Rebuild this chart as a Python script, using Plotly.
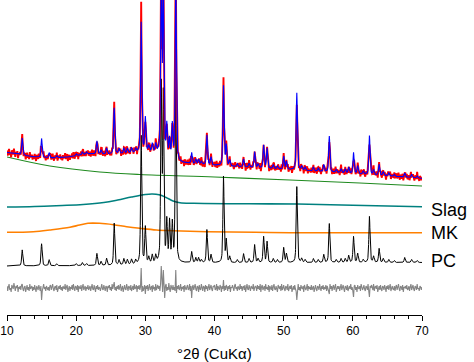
import numpy as np
import plotly.graph_objects as go

# ---------------- data ----------------
# Peak positions (deg 2theta)
peak_pos = [12.2, 15.0, 16.1, 17.2, 20.0, 20.9, 21.5, 23.0, 23.6, 24.4, 25.5, 26.2, 26.9, 27.4,
            28.0, 28.6, 29.4, 30.0, 30.5, 31.0, 31.5, 32.3, 32.6, 33.1, 33.5, 33.9, 34.4, 36.7,
            37.3, 37.7, 38.1, 38.9, 39.5, 41.3, 41.7, 42.2, 43.3, 44.2, 45.0, 45.8, 46.3, 47.1,
            47.6, 48.5, 49.1, 50.0, 50.4, 51.9, 52.6, 53.1, 54.3, 55.0, 55.8, 56.6, 57.6, 58.3,
            58.9, 59.4, 60.1, 60.7, 61.5, 62.4, 63.0, 63.8, 64.4, 65.2, 66.0, 67.5, 68.5, 69.3]
# PC phase pattern peak heights
pc_heights = [16, 22, 6, 2, 2, 3, 2, 12, 4, 7, 42, 5, 6, 5,
              5, 4, 128, 36, 6, 8, 7, 175, 165, 40, 40, 38, 180, 11,
              5, 5, 3, 33, 8, 86, 22, 6, 3, 9, 4, 18, 4, 26,
              21, 4, 3, 15, 9, 76, 4, 3, 4, 3, 8, 39, 3, 4,
              4, 7, 26, 9, 3, 46, 6, 14, 4, 3, 2, 5, 3, 2]
# calculated (fitted) pattern peak heights
calc_heights = [17, 19, 5, 2, 2, 3, 2, 13, 4, 6, 46, 5, 5, 5,
                5, 4, 130, 34, 6, 8, 8, 180, 170, 30, 18, 34, 185, 11,
                5, 5, 3, 30, 8, 80, 20, 6, 3, 8, 4, 16, 4, 23,
                20, 4, 3, 13, 8, 77, 4, 3, 4, 3, 7, 36, 3, 4,
                4, 6, 21, 8, 3, 39, 5, 11, 4, 3, 2, 4, 3, 2]

# background (green) curve
bg_x = [10, 16.2, 23.4, 29.2, 40, 50.9, 61, 70]
bg_y = [158, 149, 143, 140.5, 138, 135, 132, 129]

# Slag amorphous curve
slag_x = [10, 14, 18, 21, 24, 26, 28, 30, 31, 32, 33, 34, 35, 37, 45, 52, 60, 70]
slag_y = [108, 108.5, 109.5, 110.5, 112.5, 115, 118, 120.5, 121, 120.2, 117.5, 114,
          112.3, 111.7, 111.2, 111, 109.7, 108.2]

# MK amorphous curve
mk_x = [10, 13.8, 16.2, 19.1, 20.5, 21.7, 23.4, 25.4, 27.3, 29.2, 31.6, 34, 38.9, 45.9, 50.9, 70]
mk_y = [82.7, 83.3, 85, 87.7, 90, 91.7, 91.7, 90.3, 88.3, 86.7, 85, 84.3, 83.3, 82.7, 82.3, 82.3]

# PC trace baseline
pc_base_x = [10, 25, 33, 70]
pc_base_y = [49, 49.5, 52, 52.5]

# difference (obs - calc) at 0.1 deg steps from 10 to 70
residual = [
    2, -3, 1, 4, -2, 0, -4, 3, 1, -1, 5, -2, -3, 2, 0, 3, -4, 1, -1, 2,
    -2, 3, 4, -1, -3, 1, 2, -4, 0, 3, -2, 1, -3, 4, -1, 0, 2, -3, 1, -2,
    3, -1, -4, 2, 0, -2, 3, 1, -3, 2, -12, -3, 2, 4, -1, 1, -3, 2, 0, -2,
    1, -3, 2, 3, -2, 0, 4, -1, -3, 1, 2, -2, 3, -4, 0, 2, -1, 3, -2, 1,
    -3, 2, 0, -1, 4, -2, 1, 3, -4, 0, 2, -3, 1, -1, 3, -2, 4, 0, -3, 2,
    1, -2, 3, -4, 2, 0, -1, 3, -3, 1, 4, -2, 0, 2, -3, 1, -1, 3, -2, 0,
    2, -3, 1, 4, -1, -2, 3, 0, -4, 2, -1, 3, -2, 1, 0, -3, 2, 4, -1, -2,
    3, -1, -3, 2, 1, -4, 2, 0, 3, -2, 1, -3, 4, -1, 2, 6, -2, 1, -3, 2,
    -1, 3, -2, 0, 4, -3, 1, 2, -4, 1, 3, -1, -2, 4, 0, -3, 2, 1, -2, 3,
    -3, 1, 2, -2, 4, -1, 0, 3, -4, 2, -1, 3, -2, 1, 20, -4, 2, -3, 1, 3,
    -6, 2, -1, 3, -3, 1, 4, -2, 0, 2, -4, 3, -1, 1, -3, 4, -2, 0, 3, -1,
    2, -3, 4, 22, -2, -4, 18, 3, -10, 2, 4, -3, 1, -2, 5, -1, -4, 3, 1, -2,
    3, -2, 1, -3, 18, -5, 2, -1, 3, -2, 0, 4, -3, 1, -1, 2, -4, 3, 0, -2,
    1, 3, -2, -1, 4, -3, 2, -10, 1, 3, -2, 0, 4, -1, -3, 2, 1, -4, 3, -1,
    -2, 4, 0, -3, 2, 1, -4, 3, -1, 2, -3, 1, 4, -2, 0, 3, -1, -3, 2, 1,
    3, -2, -1, 4, -3, 2, 0, -2, 3, 1, -4, 2, -1, 8, -3, 2, -2, 3, 1, -3,
    2, -1, 3, -4, 1, 0, 3, -2, -3, 2, 4, -1, 1, -3, 2, 0, -2, 4, -1, 2,
    -3, 1, 2, -2, 3, -4, 1, 4, -1, -2, 3, 0, -3, 2, 1, -1, 4, -3, 0, 2,
    1, -3, 3, -1, 2, -2, 4, -4, 1, 3, -2, 0, 2, -3, 4, -1, 1, -2, 3, -4,
    2, 0, -2, 3, -3, 1, 4, -1, -2, 2, 0, -4, 3, 1, -1, 2, -3, 4, -2, 0,
    3, -1, -3, 2, 1, -2, 4, -3, 0, 2, -1, 3, -4, 1, 2, -2, 3, -1, -3, -12,
    2, 4, -2, 1, -3, 3, 0, -1, 2, -4, 3, 1, -2, 0, 4, -3, 2, -1, 1, -2,
    3, -2, 0, 2, -4, 1, 3, -1, -3, 2, 1, -2, 4, 0, -3, 2, -1, 3, -2, 1,
    -1, 3, -3, 2, 0, -2, -6, 4, -1, 2, -3, 1, 3, -2, 0, 4, -4, 1, 2, -1,
    2, -3, 1, 4, -2, 0, 3, -1, -4, 2, 1, -2, 3, -3, 0, 2, -1, 4, -2, 1,
    -3, -9, 2, 3, -2, 1, -4, 3, 0, -1, 2, -3, 4, 1, -2, 0, 3, -1, -3, 2,
    1, -2, 4, -3, -9, 2, 0, 3, -1, -2, 4, -3, 1, 2, -1, 3, -4, 0, 2, -2,
    3, -1, -3, 2, 1, -2, 3, 0, -4, 2, -1, 3, -2, 1, 4, -3, 0, 2, -1, -2,
    2, -3, 1, 3, -2, 0, 4, -1, -3, 2, 1, -2, 3, -4, 1, 0, 2, -1, 3, -2,
    -1, 2, -3, 1, 4, -2, 0, 3, -1, -3, 2, 1, -2, 4, -1, 0, -3, 2, 1, -2,
    1,
]

x_ticks = [10, 20, 30, 40, 50, 60, 70]
labels = ["Slag", "MK", "PC"]

# vertical placement of the stacked traces
SLAG_ZERO = 104.0
MK_ZERO = 82.3
PC_ZERO = 49.0
RESID_OFFSET = 27.0
PEAK_FWHM = 0.2

# ---------------- build traces ----------------
x_fine = np.round(np.arange(10, 70.0001, 0.02), 2)
x_step = np.round(np.arange(10, 70.0001, 0.1), 1)


def peaks(x, pos, h):
    out = np.zeros_like(x, dtype=float)
    for p, a in zip(pos, h):
        d = (x - p) / (PEAK_FWHM / 2)
        out += a * (0.5 / (1 + d ** 2) + 0.5 * np.exp(-np.log(2) * d ** 2))
    return out


def calc_at(x):
    return (np.interp(x, bg_x, bg_y)
            + np.interp(x, slag_x, slag_y) - SLAG_ZERO
            + np.interp(x, mk_x, mk_y) - MK_ZERO
            + np.interp(x, pc_base_x, pc_base_y) - PC_ZERO
            + peaks(x, peak_pos, calc_heights))


calc_fine = calc_at(x_fine)
obs = calc_at(x_step) + np.array(residual, dtype=float)
pc_trace = np.interp(x_fine, pc_base_x, pc_base_y) + peaks(x_fine, peak_pos, pc_heights)
resid_trace = RESID_OFFSET + np.array(residual, dtype=float)

fig = go.Figure()
fig.add_trace(go.Scatter(x=x_step, y=resid_trace, mode="lines",
                         line=dict(color="#858585", width=1.1)))
fig.add_trace(go.Scatter(x=bg_x, y=bg_y, mode="lines",
                         line=dict(color="#1f8a1f", width=1.2, shape="spline")))
fig.add_trace(go.Scatter(x=slag_x, y=slag_y, mode="lines",
                         line=dict(color="#00807f", width=1.6, shape="spline")))
fig.add_trace(go.Scatter(x=mk_x, y=mk_y, mode="lines",
                         line=dict(color="#ff8000", width=1.6, shape="spline")))
fig.add_trace(go.Scatter(x=x_fine, y=pc_trace, mode="lines",
                         line=dict(color="#000000", width=1)))
fig.add_trace(go.Scatter(x=x_step, y=obs, mode="lines",
                         line=dict(color="#ff0000", width=1.9)))
fig.add_trace(go.Scatter(x=x_fine, y=calc_fine, mode="lines",
                         line=dict(color="#0000ff", width=1.1)))

FONT = "Arial, 'Liberation Sans', sans-serif"
label_y = [slag_y[-1] - 3, mk_y[-1] - 0.5, pc_base_y[-1] + 2]
for txt, yv in zip(labels, label_y):
    fig.add_annotation(x=1, xref="paper", y=yv, yref="y", text=txt, showarrow=False,
                       xanchor="left", yanchor="middle", xshift=7,
                       font=dict(family=FONT, size=18, color="#000000"))

fig.add_annotation(x=0.5, xref="paper", y=0, yref="paper", text="°2θ (CuKα)",
                   showarrow=False, xanchor="center", yanchor="top", yshift=-28,
                   font=dict(family=FONT, size=15, color="#000000"))

fig.update_layout(
    width=474, height=362,
    margin=dict(l=7, r=52, t=0, b=47),
    paper_bgcolor="white", plot_bgcolor="white",
    showlegend=False,
    font=dict(family=FONT, size=12, color="#000000"),
)
fig.update_xaxes(range=[10, 70], tickvals=x_ticks, ticks="outside", ticklen=5,
                 tickwidth=1, tickcolor="#000000", showline=True, linecolor="#000000",
                 linewidth=1, showgrid=False, zeroline=False, automargin=False,
                 tickfont=dict(family=FONT, size=12, color="#000000"),
                 minor=dict(dtick=2, ticks="outside", ticklen=3, tickcolor="#000000",
                            tickwidth=1, showgrid=False))
fig.update_yaxes(range=[0, 315], visible=False, showgrid=False, zeroline=False)

fig.write_html("out.html",
               config={"displayModeBar": False, "staticPlot": True},
               post_script="document.body.style.margin='0px';"
                           "document.body.style.padding='0px';"
                           "document.body.style.overflow='hidden';")
